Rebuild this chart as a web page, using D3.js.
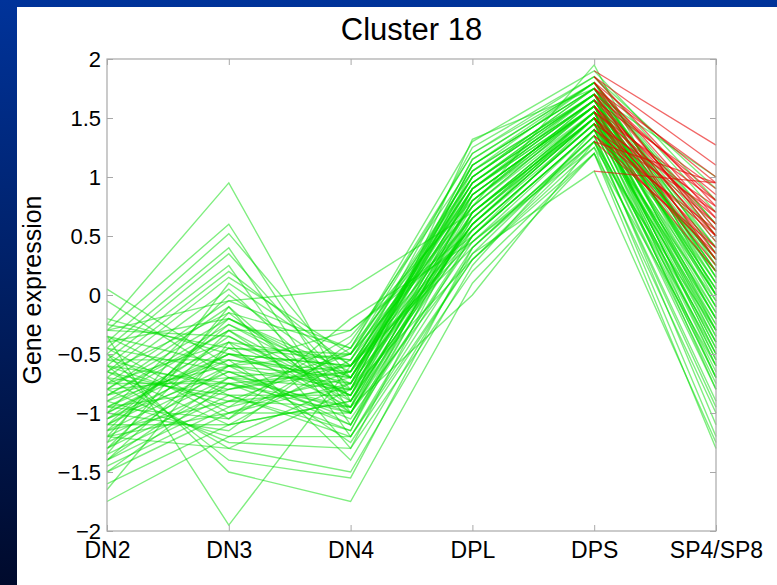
<!DOCTYPE html>
<html>
<head>
<meta charset="utf-8">
<script src="https://cdn.jsdelivr.net/npm/d3@7"></script>
<style>
  body { margin: 0; padding: 0; background: #000b2e; }
  svg { display: block; }
  text { font-family: "Liberation Sans", Arial, Helvetica, sans-serif; fill: #000; }
</style>
</head>
<body>
<div id="chart"></div>
<script>
// categories and ticks
let stages = ["DN2", "DN3", "DN4", "DPL", "DPS", "SP4/SP8"];
let yTicks = [-2, -1.5, -1, -0.5, 0, 0.5, 1, 1.5, 2];
let chartTitle = "Cluster 18";
let yTitle = "Gene expression";

// green profiles, one value per stage
let greenProfiles = [
  [0.05, -0.6, -0.3, 0.5, 1.4, 0.2],
  [-0.05, -0.7, -0.8, 0.3, 1.3, -0.4],
  [-0.25, 0.95, -0.9, 0.6, 1.5, 0.0],
  [-0.3, 0.6, -1.0, 0.9, 1.6, -0.2],
  [-0.3, -0.05, 0.05, 0.7, 1.5, 0.3],
  [-0.4, 0.52, -0.7, 1.0, 1.7, 0.5],
  [-0.45, 0.4, -1.1, 0.8, 1.55, -0.6],
  [-0.5, 0.35, -0.8, 1.1, 1.75, 0.1],
  [-0.55, 0.25, -1.2, 0.4, 1.35, -0.8],
  [-0.6, 0.2, -0.6, 0.95, 1.65, 0.4],
  [-0.65, 0.15, -0.5, 1.2, 1.8, 0.6],
  [-0.7, 0.05, -0.9, 0.6, 1.45, -0.3],
  [-0.75, -0.05, -0.45, 1.3, 1.9, 0.8],
  [-0.8, -0.1, -1.3, 0.2, 1.2, -1.0],
  [-0.85, -0.25, -0.7, 0.85, 1.6, 0.0],
  [-0.9, -0.3, -1.0, 0.75, 1.55, -0.5],
  [-0.95, -0.4, -0.55, 1.05, 1.7, 0.3],
  [-1.0, -0.5, -0.85, 0.5, 1.4, -0.7],
  [-1.05, -0.55, -0.65, 0.9, 1.65, 0.1],
  [-1.1, -0.6, -1.1, 0.65, 1.5, -0.2],
  [-1.15, -0.65, -0.75, 1.15, 1.8, 0.5],
  [-1.2, -0.7, -0.6, 0.45, 1.3, -0.9],
  [-1.25, -0.75, -0.95, 0.8, 1.6, -0.1],
  [-1.3, -0.8, -0.5, 1.0, 1.7, 0.2],
  [-1.35, -0.85, -1.2, 0.3, 1.25, -1.2],
  [-1.4, -0.9, -0.8, 0.7, 1.5, -0.4],
  [-1.45, -0.95, -0.7, 0.95, 1.65, 0.0],
  [-1.5, -1.0, -1.0, 0.55, 1.45, -0.6],
  [-1.6, -1.1, -0.9, 0.85, 1.6, 0.3],
  [-1.75, -1.2, -0.75, 0.6, 1.55, -0.3],
  [-1.65, -0.4, -1.4, 0.35, 1.35, -1.1],
  [-0.35, -1.95, -0.6, 0.9, 1.6, -0.2],
  [-0.5, -1.5, -1.75, 0.1, 1.2, -1.3],
  [-0.6, -1.4, -1.55, 0.4, 1.3, -0.5],
  [-0.7, -1.3, -1.5, 0.25, 1.4, -0.7],
  [-0.8, -1.25, -1.3, 0.7, 1.55, 0.1],
  [-0.9, -1.2, -1.2, 0.5, 1.5, -0.8],
  [-1.0, -1.15, -0.4, 1.1, 1.75, 0.4],
  [-1.1, -1.1, -0.55, 0.75, 1.6, -0.15],
  [-1.2, -1.0, -0.65, 1.25, 1.85, 0.7],
  [-0.25, -0.45, -0.95, 0.6, 1.5, -0.45],
  [-0.3, -0.35, -0.85, 0.8, 1.65, 0.2],
  [-0.4, -0.2, -0.75, 0.95, 1.7, -0.05],
  [-0.45, -0.65, -1.05, 0.45, 1.4, -0.65],
  [-0.55, -0.8, -0.65, 1.0, 1.75, 0.35],
  [-0.65, -0.9, -0.5, 0.65, 1.55, -0.25],
  [-0.75, -0.75, -1.15, 0.85, 1.6, 0.05],
  [-0.85, -0.6, -0.8, 1.15, 1.8, 0.55],
  [-0.95, -0.5, -0.6, 0.55, 1.45, -0.55],
  [-1.05, -0.35, -0.9, 0.7, 1.5, -0.35],
  [-1.15, -0.2, -0.7, 0.9, 1.65, 0.15],
  [-1.25, 0.1, -0.6, 0.4, 1.35, -0.75],
  [-1.35, -0.1, -1.0, 0.65, 1.55, -0.1],
  [-0.5, -1.05, -0.45, 1.2, 1.85, 0.9],
  [-0.6, -0.95, -0.35, 0.8, 1.6, 0.25],
  [-0.7, -0.85, -0.85, 1.05, 1.7, 0.45],
  [-0.8, -0.7, -0.95, 0.0, 1.3, -0.95],
  [-0.9, -0.55, -1.25, 0.3, 1.2, -0.6],
  [-1.0, -0.45, -0.5, 0.75, 1.95, 0.0],
  [-1.1, -0.25, -0.8, 1.1, 1.75, 0.6],
  [-1.2, -0.15, -0.45, 0.85, 1.6, -0.4],
  [-1.3, -0.6, -0.7, 0.6, 1.5, 0.3],
  [-1.4, -0.45, -0.55, 1.0, 1.7, 1.0],
  [-1.5, -0.75, -0.65, 0.5, 1.4, -0.25],
  [-0.95, -1.05, -0.2, 0.45, 1.25, -0.3],
  [-0.65, -0.15, -0.95, 1.32, 1.75, 0.15],
  [-0.35, -0.85, -1.15, 0.7, 1.55, -0.5],
  [-0.2, -0.5, -0.6, 0.95, 1.65, 0.05],
  [-0.85, -0.3, -0.3, 0.55, 1.45, -0.15],
  [-1.05, -0.65, -1.0, 0.35, 1.05, -1.25],
  [-0.55, -0.55, -0.7, 0.75, 1.6, -0.35],
  [-0.75, -0.4, -0.85, 0.9, 1.7, -0.1],
  [-0.95, -0.8, -0.6, 0.65, 1.5, -0.45],
  [-1.15, -0.9, -0.95, 0.8, 1.65, 0.2],
  [-0.45, -1.0, -0.75, 0.55, 1.45, -0.2],
  [-1.3, -0.3, -0.85, 1.0, 1.75, 0.35],
  [-0.6, -0.75, -1.0, 0.7, 1.55, -0.7],
  [-1.0, 0.0, -0.7, 0.85, 1.6, 0.05],
  [-0.35, -0.6, -0.5, 1.05, 1.8, 0.25],
  [-1.2, -1.3, -0.8, 0.6, 1.5, -0.55],
  [-0.8, -0.2, -0.65, 0.95, 1.7, -0.3],
  [-1.4, -0.7, -1.1, 0.5, 1.4, -0.05],
  [-0.65, -1.1, -0.9, 0.9, 1.65, 0.0],
  [-1.1, -0.5, -0.75, 1.1, 1.8, 0.15]
];

// red segments: DPS value, SP4/SP8 value
let redStages = ["DPS", "SP4/SP8"];
let redProfiles = [
  [1.9, 1.27], [1.85, 1.1], [1.8, 0.95], [1.75, 1.0], [1.7, 0.85],
  [1.65, 0.9], [1.6, 0.7], [1.55, 0.8], [1.5, 0.6], [1.45, 0.75],
  [1.4, 0.5], [1.35, 0.55], [1.3, 0.4], [1.7, 0.45], [1.8, 0.65],
  [1.6, 0.35], [1.5, 0.25], [1.05, 0.95], [1.75, 0.55], [1.55, 0.3],
  [1.45, 0.2], [1.65, 0.6], [1.4, 0.7], [1.85, 0.75], [1.3, 0.95],
  [1.75, 0.8], [1.6, 0.5], [1.5, 0.4], [1.7, 0.3], [1.55, 0.65],
  [1.8, 0.5], [1.35, 0.35]
];

// svg dimensions
let svgWidth = 777,
  svgHeight = 585;

let plot = { left: 107, right: 716, top: 59, bottom: 531 };

let svg = d3
  .select("#chart")
  .append("svg")
  .attr("width", svgWidth)
  .attr("height", svgHeight);

// slide background
let grad = svg
  .append("defs")
  .append("linearGradient")
  .attr("id", "slideBg")
  .attr("x1", 0)
  .attr("y1", 0)
  .attr("x2", 0)
  .attr("y2", 1);
grad.append("stop").attr("offset", "0%").attr("stop-color", "#00339a");
grad.append("stop").attr("offset", "100%").attr("stop-color", "#000a2c");

svg
  .append("rect")
  .attr("width", svgWidth)
  .attr("height", svgHeight)
  .attr("fill", "url(#slideBg)");

svg
  .append("rect")
  .attr("x", 17)
  .attr("y", 7)
  .attr("width", svgWidth - 17)
  .attr("height", svgHeight - 7)
  .attr("fill", "#fff");

// scales
let xScale = d3.scalePoint().domain(stages).range([plot.left, plot.right]);
let yScale = d3.scaleLinear().domain([-2, 2]).range([plot.bottom, plot.top]);

let fmt = (d) => String(d).replace("-", "\u2212");

// lines
let greenLine = d3
  .line()
  .x((d, i) => xScale(stages[i]))
  .y((d) => yScale(d));

let redLine = d3
  .line()
  .x((d, i) => xScale(redStages[i]))
  .y((d) => yScale(d));

let lineGroup = svg.append("g");

lineGroup
  .selectAll(".greenProfile")
  .data(greenProfiles)
  .enter()
  .append("path")
  .classed("greenProfile", true)
  .attr("d", greenLine)
  .attr("fill", "none")
  .attr("stroke", "#00dd00")
  .attr("stroke-opacity", 0.5)
  .attr("stroke-width", 1.4);

lineGroup
  .selectAll(".redProfile")
  .data(redProfiles)
  .enter()
  .append("path")
  .classed("redProfile", true)
  .attr("d", redLine)
  .attr("fill", "none")
  .attr("stroke", "#e80000")
  .attr("stroke-opacity", 0.6)
  .attr("stroke-width", 1.3);

// axes, ticks point inward like matlab
let axisColor = "#a8a8a8";

function styleAxis(g) {
  g.select(".domain").remove();
  g.selectAll(".tick line").attr("stroke", axisColor);
  g.selectAll(".tick text").attr("fill", "#000");
}

svg
  .append("g")
  .attr("transform", `translate(${plot.left}, 0)`)
  .call(
    d3.axisLeft(yScale).tickValues(yTicks).tickFormat(fmt).tickSize(-6).tickPadding(6)
  )
  .call(styleAxis)
  .selectAll("text")
  .attr("font-size", "22px")
  .attr("font-family", "Liberation Sans, Arial, sans-serif");

svg
  .append("g")
  .attr("transform", `translate(${plot.right}, 0)`)
  .call(d3.axisRight(yScale).tickValues(yTicks).tickFormat("").tickSize(-6))
  .call(styleAxis);

svg
  .append("g")
  .attr("transform", `translate(0, ${plot.bottom})`)
  .call(d3.axisBottom(xScale).tickSize(-6).tickPadding(11))
  .call(styleAxis)
  .selectAll("text")
  .attr("font-size", "23px")
  .attr("font-family", "Liberation Sans, Arial, sans-serif");

svg
  .append("g")
  .attr("transform", `translate(0, ${plot.top})`)
  .call(d3.axisTop(xScale).tickFormat("").tickSize(-6))
  .call(styleAxis);

// frame
svg
  .append("rect")
  .attr("x", plot.left)
  .attr("y", plot.top)
  .attr("width", plot.right - plot.left)
  .attr("height", plot.bottom - plot.top)
  .attr("fill", "none")
  .attr("stroke", axisColor)
  .attr("stroke-width", 1.2);

// titles
svg
  .append("text")
  .attr("x", (plot.left + plot.right) / 2)
  .attr("y", 40)
  .attr("text-anchor", "middle")
  .attr("font-size", "31px")
  .text(chartTitle);

svg
  .append("text")
  .attr("transform", `translate(41, 290) rotate(-90)`)
  .attr("text-anchor", "middle")
  .attr("font-size", "25px")
  .text(yTitle);
</script>
</body>
</html>
